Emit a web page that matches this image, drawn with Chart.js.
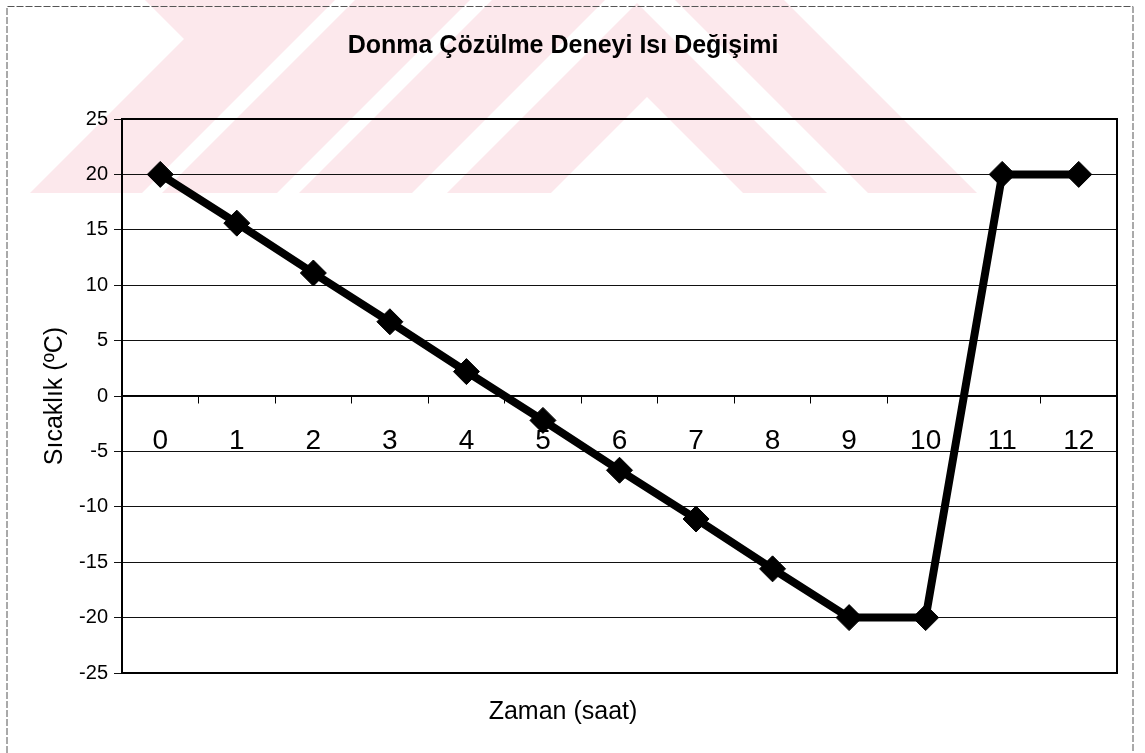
<!DOCTYPE html>
<html>
<head>
<meta charset="utf-8">
<script src="https://cdn.jsdelivr.net/npm/chart.js@4.4.1/dist/chart.umd.min.js"></script>
<style>
  body{margin:0;background:#fff;}
  #wrap{width:1145px;height:753px;position:relative;}
</style>
</head>
<body>
<div id="wrap"><canvas id="isiChart"></canvas></div>
<script>
// veriler
const saatler = ['0','1','2','3','4','5','6','7','8','9','10','11','12'];
const sicaklik = [20, 15.6, 11.1, 6.7, 2.2, -2.2, -6.7, -11.1, -15.6, -20, -20, 20, 20];
const yMin = -25;
const yMax = 25;
const yAdim = 5;

const baslik = 'Donma Çözülme Deneyi Isı Değişimi';
const xBaslik = 'Zaman (saat)';
const yBaslik = 'Sıcaklık (ºC)';

const yazi = "'Liberation Sans', Arial, sans-serif";

// arka plandaki soluk filigran ve dis cerceve
const arkaPlan = {
    id: 'arkaPlan',
    beforeDraw(chart){
        const c = chart.ctx;
        c.save();
        c.beginPath();
        c.rect(0, 0, chart.width, 193);
        c.clip();
        c.fillStyle = '#fce8ec';
        const parcalar = [
            [[145,0],[335,0],[142,193],[30,193],[184,39]],
            [[355,0],[470,0],[277,193],[162,193]],
            [[492,0],[605,0],[412,193],[299,193]],
            [[675,0],[784,0],[977,193],[868,193]],
            [[637,3],[827,193],[447,193]]
        ];
        parcalar.forEach(p => {
            c.beginPath();
            c.moveTo(p[0][0], p[0][1]);
            for (let i = 1; i < p.length; i++){
                c.lineTo(p[i][0], p[i][1]);
            }
            c.closePath();
            c.fill();
        });
        c.fillStyle = '#fff';
        c.beginPath();
        c.moveTo(647,97);
        c.lineTo(743,193);
        c.lineTo(551,193);
        c.closePath();
        c.fill();
        c.restore();

        c.save();
        c.strokeStyle = '#555';
        c.lineWidth = 1;
        c.setLineDash([7,2]);
        c.beginPath();
        c.moveTo(7, chart.height);
        c.lineTo(7, 6.5);
        c.lineTo(1133, 6.5);
        c.lineTo(1133, chart.height);
        c.stroke();
        c.restore();
    },
    beforeDatasetsDraw(chart){
        const a = chart.chartArea;
        const c = chart.ctx;
        c.save();
        c.strokeStyle = '#000';
        c.lineWidth = 2;
        c.strokeRect(a.left, a.top, a.right - a.left, a.bottom - a.top);
        c.restore();
    }
};

var ctx = document.getElementById('isiChart').getContext('2d');
let grafik = new Chart(ctx, {
    type: 'line',
    data: {
        labels: saatler,
        datasets: [
            {
                label: yBaslik,
                data: sicaklik,
                borderColor: '#000',
                backgroundColor: '#000',
                borderWidth: 8,
                pointStyle: 'rectRot',
                pointRadius: 13,
                pointBorderWidth: 1,
                pointBackgroundColor: '#000',
                pointBorderColor: '#000',
                tension: 0
            }
        ]
    },
    options: {
        responsive: true,
        maintainAspectRatio: false,
        animation: false,
        layout: {
            padding: {left: 9, right: 28, top: 0, bottom: 0}
        },
        scales: {
            x: {
                type: 'category',
                position: {y: 0},
                offset: true,
                grid: {
                    offset: true,
                    drawOnChartArea: false,
                    drawTicks: true,
                    tickLength: 7,
                    color: '#000'
                },
                border: {display: true, color: '#000', width: 1.5},
                ticks: {
                    color: '#000',
                    padding: 21,
                    maxRotation: 0,
                    autoSkip: false,
                    font: {family: yazi, size: 28}
                }
            },
            y: {
                min: yMin,
                max: yMax,
                ticks: {
                    stepSize: yAdim,
                    color: '#000',
                    padding: 6,
                    font: {family: yazi, size: 20}
                },
                grid: {
                    color: '#111',
                    lineWidth: 1,
                    tickLength: 8,
                    drawTicks: true
                },
                border: {display: true, color: '#000', width: 2},
                title: {
                    display: true,
                    text: yBaslik,
                    color: '#000',
                    padding: {top: 31, bottom: 9},
                    font: {family: yazi, size: 25}
                },
                afterFit(scale){
                    scale.width = 113;
                }
            }
        },
        plugins: {
            legend: {display: false},
            tooltip: {enabled: false},
            title: {
                display: true,
                text: baslik,
                color: '#000',
                padding: {top: 31, bottom: 58},
                font: {family: yazi, size: 25, weight: 'bold'}
            },
            subtitle: {
                display: true,
                position: 'bottom',
                text: xBaslik,
                color: '#000',
                padding: {top: 24, bottom: 26},
                font: {family: yazi, size: 25, weight: 'normal'}
            }
        }
    },
    plugins: [arkaPlan]
});
</script>
</body>
</html>
